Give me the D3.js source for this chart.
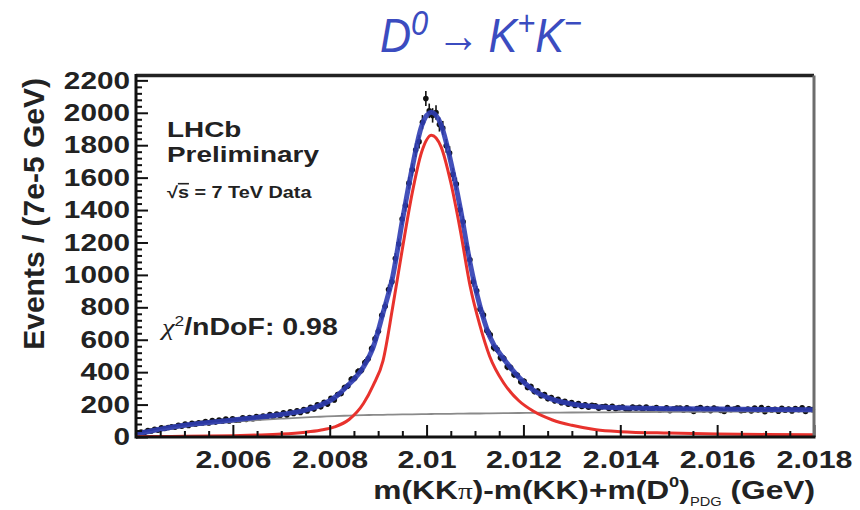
<!DOCTYPE html>
<html>
<head>
<meta charset="utf-8">
<script src="https://cdn.jsdelivr.net/npm/d3@7/dist/d3.min.js"></script>
<style>
  body { margin: 0; background: #fff; }
  svg { display: block; }
</style>
</head>
<body>
<svg id="chart" width="860" height="510"></svg>
<script>
// Histogram binning: 200 bins of 7e-5 GeV
const massMin = 2.004;
const massMax = 2.018;
const binWidth = 0.00007;

// Events per bin
const counts = [
  19, 30, 27, 40, 37, 48, 42, 56, 52, 59,
  63, 60, 72, 66, 80, 71, 84, 79, 88, 85,
  95, 87, 101, 92, 104, 97, 110, 99, 112, 103,
  105, 118, 109, 120, 113, 126, 119, 129, 122, 138,
  127, 141, 133, 149, 135, 156, 145, 162, 151, 170,
  161, 183, 172, 198, 186, 214, 203, 238, 229, 262,
  268, 305, 314, 356, 362, 404, 411, 460, 483, 545,
  605, 652, 751, 806, 910, 958, 1101, 1190, 1345, 1428,
  1566, 1648, 1770, 1822, 1942, 2088, 2012, 1984, 2002, 1928,
  1906, 1796, 1752, 1620, 1561, 1402, 1328, 1166, 1093, 958,
  902, 788, 752, 655, 631, 552, 541, 489, 484, 433,
  428, 385, 381, 341, 343, 306, 311, 280, 284, 255,
  262, 236, 244, 223, 232, 211, 220, 202, 212, 195,
  207, 188, 199, 184, 196, 192, 178, 186, 190, 176,
  189, 174, 181, 185, 172, 170, 185, 178, 183, 169,
  184, 168, 175, 182, 165, 170, 180, 162, 173, 178,
  178, 165, 180, 169, 158, 176, 182, 167, 175, 163,
  179, 171, 164, 158, 181, 168, 173, 180, 162, 165,
  172, 160, 178, 166, 181, 156, 176, 167, 171, 159,
  177, 165, 173, 161, 176, 168, 180, 158, 174, 169
];

// Fit curves sampled on a common mass grid
const fitMass = [
  2.0040, 2.0045, 2.0050, 2.0055, 2.0060, 2.0065, 2.0070, 2.0075, 2.0078,
  2.0081, 2.0084, 2.0087, 2.0089, 2.0091, 2.0093, 2.0095, 2.0097, 2.0099,
  2.0101, 2.0103, 2.0105, 2.0107, 2.0109, 2.0111, 2.0113, 2.0116, 2.0119,
  2.0122, 2.0126, 2.0130, 2.0135, 2.0140, 2.0150, 2.0160, 2.0170, 2.0180
];
const fitTotal = [
  18, 48, 72, 89, 105, 121, 139, 166, 195,
  243, 326, 433, 556, 764, 988, 1335, 1655, 1920,
  2003, 1925, 1698, 1405, 1070, 810, 622, 480, 370,
  290, 232, 204, 187, 180, 175, 172, 170, 168
];
const fitSignal = [
  2, 3, 4, 6, 8, 12, 18, 30, 42,
  62, 108, 208, 320, 470, 800, 1160, 1500, 1760,
  1862, 1790, 1570, 1270, 930, 690, 500, 330, 225,
  160, 105, 72, 45, 33, 24, 19, 16, 14
];
const fitBackground = [
  10, 42, 64, 80, 93, 104, 113, 121, 125,
  129, 132, 135, 136, 137, 138, 139, 140, 141,
  142, 143, 143, 144, 145, 145, 146, 147, 148,
  149, 150, 151, 152, 153, 155, 156, 157, 158
];

// Axis ticks
const xMajorTicks = [2.006, 2.008, 2.010, 2.012, 2.014, 2.016, 2.018];
const xTickLabels = ["2.006", "2.008", "2.01", "2.012", "2.014", "2.016", "2.018"];
const yMajorTicks = [0, 200, 400, 600, 800, 1000, 1200, 1400, 1600, 1800, 2000, 2200];
const yMax = 2230;

// Frame geometry
const plot = { left: 136, right: 814, top: 75.5, bottom: 437 };
const SX = 1.24;   // wide lettering
const FONT = "'Liberation Sans', Arial, Helvetica, sans-serif";

const svg = d3.select("#chart");
const x = d3.scaleLinear().domain([massMin, massMax]).range([plot.left, plot.right]);
const y = d3.scaleLinear().domain([0, yMax]).range([plot.bottom, plot.top]);

// --- title (slightly condensed) ---
const title = svg.append("g")
  .attr("transform", "translate(481,52) scale(0.88,1)")
  .append("text")
  .attr("text-anchor", "middle")
  .attr("font-family", FONT)
  .attr("font-style", "italic")
  .attr("font-size", 49)
  .attr("fill", "#3b4cc0");
title.append("tspan").text("D");
title.append("tspan").attr("font-size", 35).attr("dy", -17).text("0");
title.append("tspan").attr("dy", 17).attr("font-style", "normal").text("\u2009\u2192\u2009");
title.append("tspan").text("K");
title.append("tspan").attr("font-size", 35).attr("dy", -17).text("+");
title.append("tspan").attr("dy", 17).text("K");
title.append("tspan").attr("font-size", 35).attr("dy", -17).text("\u2212");

// --- data points with Poisson error bars ---
const binCenter = i => massMin + binWidth * (i + 0.5);
const pts = svg.append("g");
pts.selectAll("line")
  .data(counts)
  .join("line")
  .attr("x1", (d, i) => x(binCenter(i)))
  .attr("x2", (d, i) => x(binCenter(i)))
  .attr("y1", d => y(d + Math.sqrt(d)))
  .attr("y2", d => y(d - Math.sqrt(d)))
  .attr("stroke", "#111")
  .attr("stroke-width", 1.6);
pts.selectAll("circle")
  .data(counts)
  .join("circle")
  .attr("cx", (d, i) => x(binCenter(i)))
  .attr("cy", d => y(d))
  .attr("r", 2.8)
  .attr("fill", "#111");

// --- fit curves ---
const curveLine = vals => d3.line()
  .x((d, i) => x(fitMass[i]))
  .y(d => y(d))
  .curve(d3.curveMonotoneX)(vals);

svg.append("path")
  .attr("d", curveLine(fitBackground))
  .attr("fill", "none")
  .attr("stroke", "#8a8a8a")
  .attr("stroke-width", 1.8);

svg.append("path")
  .attr("d", curveLine(fitTotal))
  .attr("fill", "none")
  .attr("stroke", "#2f3db3")
  .attr("stroke-width", 5)
  .attr("stroke-opacity", 0.9);

svg.append("path")
  .attr("d", curveLine(fitSignal))
  .attr("fill", "none")
  .attr("stroke", "#e8322d")
  .attr("stroke-width", 3);

// --- axes ---
const yMinor = d3.range(0, 2201, 40).filter(v => v % 200 !== 0);
const xMinor = d3.range(0, 29).map(k => massMin + 0.0005 * k)
  .filter(v => !xMajorTicks.some(t => Math.abs(t - v) < 1e-7) && v > massMin + 1e-7);

const yAxis = svg.append("g")
  .attr("transform", `translate(${plot.left},0)`)
  .call(d3.axisLeft(y).tickValues(yMajorTicks).tickSize(-12).tickPadding(6)
    .tickFormat(d3.format("d")));
svg.append("g")
  .attr("transform", `translate(${plot.left},0)`)
  .call(d3.axisLeft(y).tickValues(yMinor).tickSize(-6).tickFormat(""))
  .call(g => g.select(".domain").remove());

const xAxis = svg.append("g")
  .attr("transform", `translate(0,${plot.bottom})`)
  .call(d3.axisBottom(x).tickValues(xMajorTicks).tickSize(-12).tickPadding(14)
    .tickFormat((d, i) => xTickLabels[i]));
svg.append("g")
  .attr("transform", `translate(0,${plot.bottom})`)
  .call(d3.axisBottom(x).tickValues(xMinor).tickSize(-6).tickFormat(""))
  .call(g => g.select(".domain").remove());

svg.selectAll(".tick line").attr("stroke", "#111").attr("stroke-width", 2);
yAxis.selectAll(".tick text")
  .attr("font-family", FONT).attr("font-weight", "bold").attr("font-size", 24)
  .attr("fill", "#222")
  .attr("x", -6 / SX)
  .attr("transform", `scale(${SX},1)`);
xAxis.selectAll(".tick text")
  .attr("font-family", FONT).attr("font-weight", "bold").attr("font-size", 24.5)
  .attr("fill", "#222")
  .attr("transform", `scale(${SX},1)`);
yAxis.select(".domain").remove();
xAxis.select(".domain").remove();

// --- frame ---
svg.append("line")
  .attr("x1", plot.left).attr("x2", plot.right)
  .attr("y1", plot.top).attr("y2", plot.top)
  .attr("stroke", "#222").attr("stroke-width", 3.5);
svg.append("line")
  .attr("x1", plot.right).attr("x2", plot.right)
  .attr("y1", plot.top).attr("y2", plot.bottom)
  .attr("stroke", "#6d6d6d").attr("stroke-width", 3);
svg.append("line")
  .attr("x1", plot.left).attr("x2", plot.left)
  .attr("y1", plot.top - 1.5).attr("y2", plot.bottom + 1.5)
  .attr("stroke", "#111").attr("stroke-width", 3);
svg.append("line")
  .attr("x1", plot.left).attr("x2", plot.right + 1.5)
  .attr("y1", plot.bottom).attr("y2", plot.bottom)
  .attr("stroke", "#111").attr("stroke-width", 3);

// --- text helper with widened lettering ---
function wideText(px, py, opts = {}) {
  const g = svg.append("g").attr("transform", `translate(${px},${py}) scale(${opts.sx || SX},1)`);
  return g.append("text")
    .attr("text-anchor", opts.anchor || "start")
    .attr("font-family", FONT)
    .attr("font-weight", opts.weight || "bold")
    .attr("font-size", opts.size || 23)
    .attr("fill", opts.fill || "#222");
}

wideText(167, 136.5, { size: 22.5 }).text("LHCb");
wideText(167, 161.5, { size: 22.5 }).text("Preliminary");
const energy = wideText(167, 198, { size: 16 });
energy.append("tspan").text("\u221A");
energy.append("tspan").attr("text-decoration", "overline").text("s");
energy.append("tspan").text(" = 7 TeV Data");

const chi = wideText(162, 335, { size: 23 });
chi.append("tspan").attr("font-weight", "normal").attr("font-style", "italic")
  .attr("font-family", "'Liberation Serif', serif").text("\u03C7");
chi.append("tspan").attr("font-size", 14).attr("font-weight", "normal").attr("dy", -9).text("2");
chi.append("tspan").attr("dy", 9).text("/nDoF: 0.98");

// --- axis titles ---
svg.append("text")
  .attr("transform", "translate(44,78) rotate(-90)")
  .attr("text-anchor", "end")
  .attr("font-family", FONT)
  .attr("font-weight", "bold")
  .attr("font-size", 30)
  .attr("fill", "#222")
  .text("Events / (7e-5 GeV)");

const xt = wideText(815, 499, { anchor: "end", size: 26, sx: 1.22 });
xt.append("tspan").text("m(KK");
xt.append("tspan").attr("font-weight", "normal").attr("font-family", "'Liberation Serif', serif")
  .attr("font-size", 24).text("\u03C0");
xt.append("tspan").text(")-m(KK)+m(D");
xt.append("tspan").attr("font-size", 15).attr("dy", -12).text("0");
xt.append("tspan").attr("dy", 12).text(")");
xt.append("tspan").attr("font-size", 12).attr("font-weight", "normal").attr("dy", 7).text("PDG");
xt.append("tspan").attr("dy", -7).text(" (GeV)");
</script>
</body>
</html>
